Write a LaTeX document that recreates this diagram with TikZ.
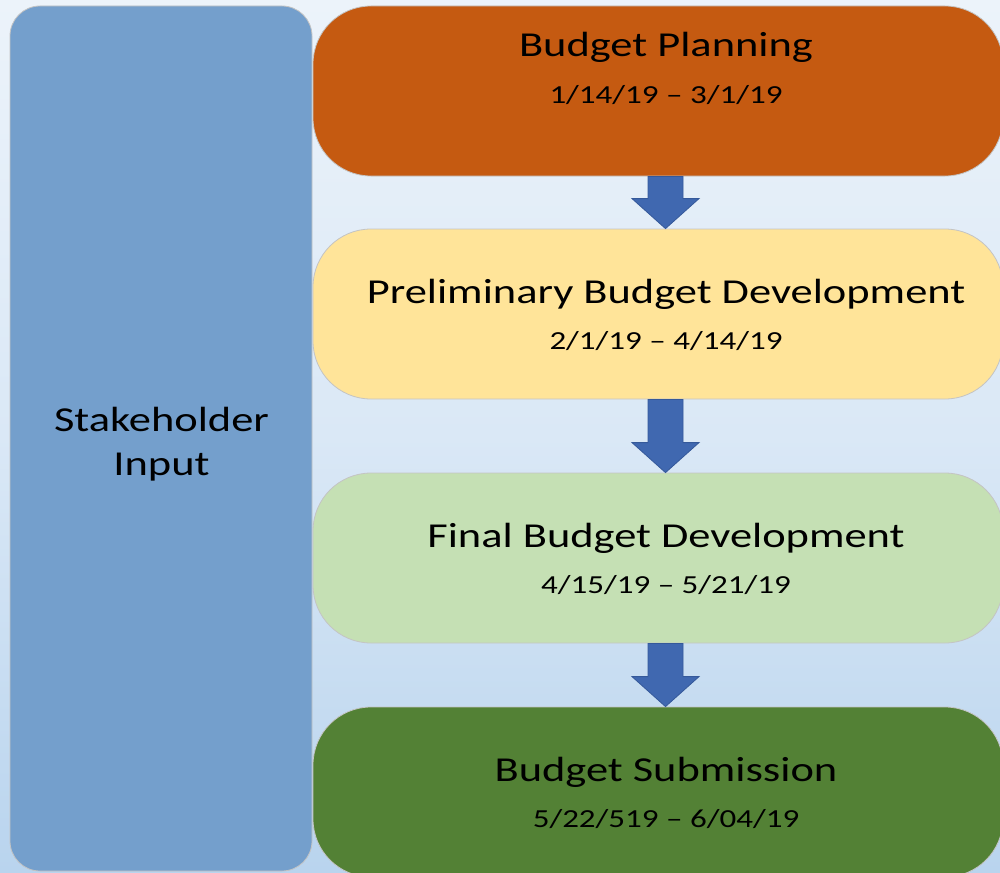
\documentclass[tikz,border=0pt]{standalone}
\usepackage{fontspec}
\setmainfont{Carlito}[FakeStretch=1.27]
\usetikzlibrary{calc}
\definecolor{bgca}{HTML}{93BCE5}
\definecolor{bgcb}{HTML}{B9D4EE}
\definecolor{bgcc}{HTML}{DAE8F6}
\definecolor{bgcd}{HTML}{ECF3FA}
\definecolor{bgce}{HTML}{F6F9FD}
\definecolor{leftc}{HTML}{749FCC}
\definecolor{orangec}{HTML}{C55A11}
\definecolor{yellowc}{HTML}{FFE499}
\definecolor{lgreenc}{HTML}{C5E0B4}
\definecolor{dgreenc}{HTML}{538135}
\definecolor{arrowfill}{HTML}{4068B0}
\definecolor{arrowline}{HTML}{35599A}
\definecolor{bordergray}{HTML}{C4C4C4}
\pgfdeclareverticalshading{bgshade}{100bp}{color(0bp)=(bgca); color(25bp)=(bgcb); color(50bp)=(bgcc); color(75bp)=(bgcd); color(100bp)=(bgce)}
\newcommand\blockarrow[2]{%
  \path[arrowshape] let \p1=(#1.south), \p2=(#2.north) in
    (648pt,\y1) -- (683pt,\y1) -- (683pt,\y2+30pt) -- (699pt,\y2+30pt)
    -- (665.5pt,\y2) -- (632pt,\y2+30pt) -- (648pt,\y2+30pt) -- cycle;}
\begin{document}
\begin{tikzpicture}[x=1pt,y=-1pt,
  stage/.style={rectangle, rounded corners=58pt, minimum width=690pt,
    minimum height=170pt, draw=bordergray, line width=0.8pt, inner sep=0pt},
  sidebox/.style={rectangle, rounded corners=30pt, minimum width=302pt,
    minimum height=865pt, draw=bordergray, line width=0.8pt, inner sep=0pt, fill=leftc},
  titletext/.style={anchor=base, inner sep=0pt, font=\fontsize{35}{42}\selectfont},
  datetext/.style={anchor=base, inner sep=0pt, font=\fontsize{26}{31}\selectfont},
  arrowshape/.style={fill=arrowfill, draw=arrowline, line width=0.8pt, line join=miter}]
\useasboundingbox (0,0) rectangle (1000,872);
\clip (0,0) rectangle (1000,872);
\shade[shading=bgshade] (0,0) rectangle (1000,872);
% side box
\node[sidebox] (si) at (161,438.5) {};
\node[titletext] (si1) at (161.5,431) {Stakeholder};
\node[titletext] (si2) at (161.5,475) {Input};
% stage boxes
\node[stage, fill=orangec] (b1) at (658,91) {};
\node[stage, fill=yellowc] (b2) at (658,314) {};
\node[stage, fill=lgreenc] (b3) at (658,558) {};
\node[stage, fill=dgreenc] (b4) at (658,792) {};
% texts
\node[titletext] (t1) at (666,57) {Budget Planning};
\node[datetext] (d1) at (666,103) {1/14/19 – 3/1/19};
\node[titletext] (t2) at (666,303) {Preliminary Budget Development};
\node[datetext] (d2) at (666,349) {2/1/19 – 4/14/19};
\node[titletext] (t3) at (666,547) {Final Budget Development};
\node[datetext] (d3) at (666,593) {4/15/19 – 5/21/19};
\node[titletext] (t4) at (666,781) {Budget Submission};
\node[datetext] (d4) at (666,827) {5/22/519 – 6/04/19};
% arrows
\blockarrow{b1}{b2}
\blockarrow{b2}{b3}
\blockarrow{b3}{b4}
\end{tikzpicture}
\end{document}
